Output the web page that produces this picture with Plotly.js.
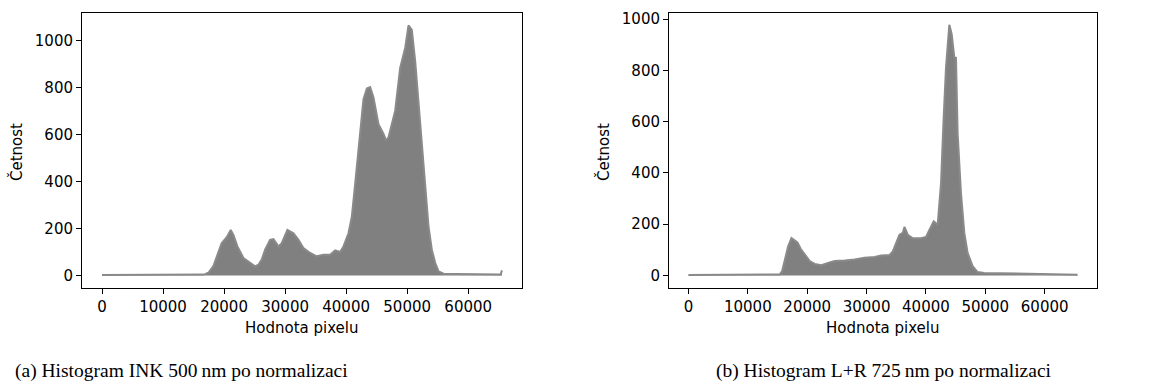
<!DOCTYPE html>
<html>
<head>
<meta charset="utf-8">
<script src="https://cdn.plot.ly/plotly-3.0.1.min.js"></script>
<style>html,body{margin:0;padding:0;background:#fff;}#chart{width:1149px;height:392px;}</style>
</head>
<body>
<div id="chart"></div>
<script>
// Histogram (a) INK 500 nm
const inkX = [0, 5000, 10000, 15000, 16500, 16885, 17430, 18250, 19070, 19600, 20440, 21090, 21530, 22190, 23170, 24260, 25080, 25630, 26170, 26720, 27540, 28090, 28910, 29450, 30380, 31370, 32190, 33000, 34100, 35190, 36280, 37380, 38200, 39020, 39560, 40380, 40930, 41480, 42300, 42840, 43390, 43930, 44480, 45300, 46120, 46560, 46940, 47320, 48030, 48850, 49670, 50220, 50760, 51310, 52020, 52680, 53500, 54040, 54590, 55140, 55960, 58000, 61000, 64000, 65300, 65535];
const inkY = [2, 2, 2, 3, 4, 6, 12, 40, 96, 138, 163, 194, 173, 124, 75, 54, 39, 46, 68, 110, 152, 155, 124, 138, 194, 180, 152, 117, 96, 82, 89, 89, 107, 100, 124, 180, 251, 392, 603, 751, 797, 803, 758, 645, 603, 575, 589, 631, 701, 884, 969, 1065, 1046, 913, 673, 462, 208, 110, 54, 18, 8, 7, 6, 5, 4, 22];
// Histogram (b) L+R 725 nm
const lrX = [0, 5000, 10000, 15000, 15390, 15785, 16230, 16790, 17350, 17910, 18360, 18920, 19590, 20430, 21270, 22390, 23510, 24630, 26310, 27990, 29670, 31350, 32470, 33870, 34420, 34980, 35540, 36100, 36380, 36940, 37780, 39180, 40020, 40580, 41310, 41980, 42540, 42990, 43380, 43940, 44330, 44780, 45060, 45340, 45900, 46460, 47020, 47860, 48700, 49820, 53000, 57000, 61000, 65535];
const lrY = [2, 2, 2, 2, 4, 17, 62, 114, 146, 137, 129, 103, 82, 56, 45, 40, 49, 56, 58, 62, 69, 72, 78, 80, 94, 127, 159, 166, 189, 159, 145, 145, 150, 178, 211, 198, 360, 618, 812, 978, 942, 851, 849, 554, 321, 166, 88, 36, 13, 10, 8, 7, 5, 3];

const xTicks = [0, 10000, 20000, 30000, 40000, 50000, 60000];
const yTicks = [0, 200, 400, 600, 800, 1000];
const xLabel = "Hodnota pixelu";
const yLabel = "Četnost";
const captions = ["(a) Histogram INK 500\u2009nm po normalizaci", "(b) Histogram L+R 725\u2009nm po normalizaci"];

const gray = "#808080";
function trace(x, y, xa, ya) {
  return {x: x, y: y, xaxis: xa, yaxis: ya, type: "scatter", mode: "lines",
    fill: "tozeroy", fillcolor: gray, line: {color: "#8a8a8a", width: 2}, hoverinfo: "skip"};
}

const W = 1149, H = 392;
const font = {family: "DejaVu Sans", size: 15, color: "#000"};
const capFont = {family: "Liberation Serif", size: 19.5, color: "#000"};
function axX(dom, anchor) {
  return {domain: dom, anchor: anchor, range: [-3277, 68812], tickvals: xTicks, ticktext: xTicks.map(String),
    showline: true, mirror: true, linecolor: "#000", linewidth: 1, ticks: "outside", ticklen: 5,
    tickcolor: "#000", showgrid: false, zeroline: false, tickfont: font};
}
function axY(dom, anchor, range) {
  return {domain: dom, anchor: anchor, range: range, tickvals: yTicks, ticktext: yTicks.map(String),
    showline: true, mirror: true, linecolor: "#000", linewidth: 1, ticks: "outside", ticklen: 5,
    tickcolor: "#000", showgrid: false, zeroline: false, tickfont: font};
}
const yDom = [(H - 288) / H, (H - 13) / H];
const layout = {
  width: W, height: H, margin: {l: 0, r: 0, t: 0, b: 0},
  paper_bgcolor: "#fff", plot_bgcolor: "#fff", showlegend: false,
  xaxis: axX([82 / W, 522 / W], "y"),
  yaxis: axY(yDom, "x", [-53, 1118]),
  xaxis2: axX([669 / W, 1097 / W], "y2"),
  yaxis2: axY(yDom, "x2", [-49, 1024]),
  annotations: [
    {text: xLabel, xref: "paper", yref: "paper", x: 302 / W, y: (H - 328) / H, showarrow: false, font: font, xanchor: "center", yanchor: "middle"},
    {text: xLabel, xref: "paper", yref: "paper", x: 883 / W, y: (H - 328) / H, showarrow: false, font: font, xanchor: "center", yanchor: "middle"},
    {text: yLabel, xref: "paper", yref: "paper", x: 16 / W, y: (H - 152) / H, showarrow: false, font: font, textangle: -90, xanchor: "center", yanchor: "middle"},
    {text: yLabel, xref: "paper", yref: "paper", x: 603 / W, y: (H - 152) / H, showarrow: false, font: font, textangle: -90, xanchor: "center", yanchor: "middle"},
    {text: captions[0], xref: "paper", yref: "paper", x: 181 / W, y: (H - 371) / H, showarrow: false, font: capFont, xanchor: "center", yanchor: "middle"},
    {text: captions[1], xref: "paper", yref: "paper", x: 884 / W, y: (H - 371) / H, showarrow: false, font: capFont, xanchor: "center", yanchor: "middle"}
  ]
};
Plotly.newPlot("chart", [trace(inkX, inkY, "x", "y"), trace(lrX, lrY, "x2", "y2")], layout, {staticPlot: true});
</script>
</body>
</html>
